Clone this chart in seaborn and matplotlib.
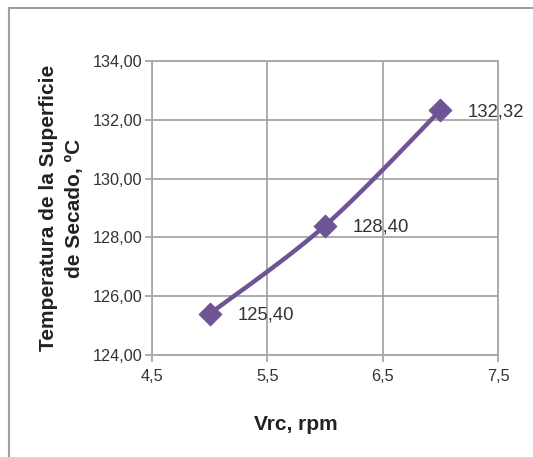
import numpy as np
import pandas as pd
import matplotlib
matplotlib.use("Agg")
import matplotlib.pyplot as plt
from matplotlib.patches import Rectangle
import seaborn as sns

# Drying-surface temperature vs. roller speed
vrc = [5, 6, 7]
temperatura = [125.40, 128.40, 132.32]
x_ticks = [4.5, 5.5, 6.5, 7.5]
y_ticks = [124, 126, 128, 130, 132, 134]

sns.set_theme(style="white")
plt.rcParams["font.family"] = ["Liberation Sans", "DejaVu Sans"]

line_color = "#6E5494"
grid_color = "#A6A6A6"
text_color = "#333333"


def catmull_rom(xs, ys, n=40):
    """Smoothed path through the points (Excel-style smoothed line)."""
    px = [xs[0]] + list(xs) + [xs[-1]]
    py = [ys[0]] + list(ys) + [ys[-1]]
    out_x, out_y = [], []
    for i in range(1, len(px) - 2):
        p0, p1, p2, p3 = (np.array([px[j], py[j]]) for j in range(i - 1, i + 3))
        c1 = p1 + (p2 - p0) / 6
        c2 = p2 - (p3 - p1) / 6
        t = np.linspace(0, 1, n)[:, None]
        pts = ((1 - t) ** 3) * p1 + 3 * ((1 - t) ** 2) * t * c1 + 3 * (1 - t) * t ** 2 * c2 + t ** 3 * p2
        out_x.extend(pts[:, 0])
        out_y.extend(pts[:, 1])
    return out_x, out_y


sx, sy = catmull_rom(vrc, temperatura)
curve = pd.DataFrame({"x": sx, "y": sy})
points = pd.DataFrame({"Vrc": vrc, "T": temperatura})

fig = plt.figure(figsize=(5.33, 4.57), dpi=100)
ax = fig.add_axes([152 / 533, 1 - 355 / 457, 346 / 533, 294 / 457])

sns.lineplot(data=curve, x="x", y="y", sort=False, ax=ax, color=line_color,
             linewidth=3.2, zorder=3, estimator=None)
sns.scatterplot(data=points, x="Vrc", y="T", ax=ax, marker="D", s=130,
                color=line_color, edgecolor=line_color, zorder=4)

for xv, yv in zip(vrc, temperatura):
    ax.annotate(f"{yv:.2f}".replace(".", ","), (xv, yv), xytext=(20, -1),
                textcoords="offset points", ha="left", va="center",
                fontsize=13.3, color=text_color, zorder=5)

ax.set_xlim(4.5, 7.5)
ax.set_ylim(124, 134)
ax.set_xticks(x_ticks)
ax.set_yticks(y_ticks)
ax.set_xticklabels([f"{v:.1f}".replace(".", ",") for v in x_ticks])
ax.set_yticklabels([f"{v:.2f}".replace(".", ",") for v in y_ticks])

ax.grid(True, color=grid_color, linewidth=1.3)
for side in ax.spines.values():
    side.set_color(grid_color)
    side.set_linewidth(1.3)
ax.tick_params(axis="both", which="major", direction="out", length=5, width=1.3,
               color=grid_color, labelsize=11.7, labelcolor=text_color,
               bottom=True, left=True)
ax.tick_params(axis="y", pad=2)
ax.tick_params(axis="x", pad=5)

ax.set_xlabel("Vrc, rpm", fontsize=15, fontweight="bold", color="#222222")
ax.set_ylabel("Temperatura de la Superficie\nde Secado, ºC", fontsize=15,
              fontweight="bold", color="#222222", labelpad=6, linespacing=1.45)
ax.xaxis.set_label_coords((296 - 152) / 346, -(415 - 355) / 294)
ax.xaxis.label.set_va("top")

# chart-area border
fig.add_artist(Rectangle((9 / 533, -0.1), 2.0, 1.1 - 8 / 457, transform=fig.transFigure,
                         fill=False, edgecolor="#A0A0A0", linewidth=1.5))

fig.savefig("out.png", dpi=100)
